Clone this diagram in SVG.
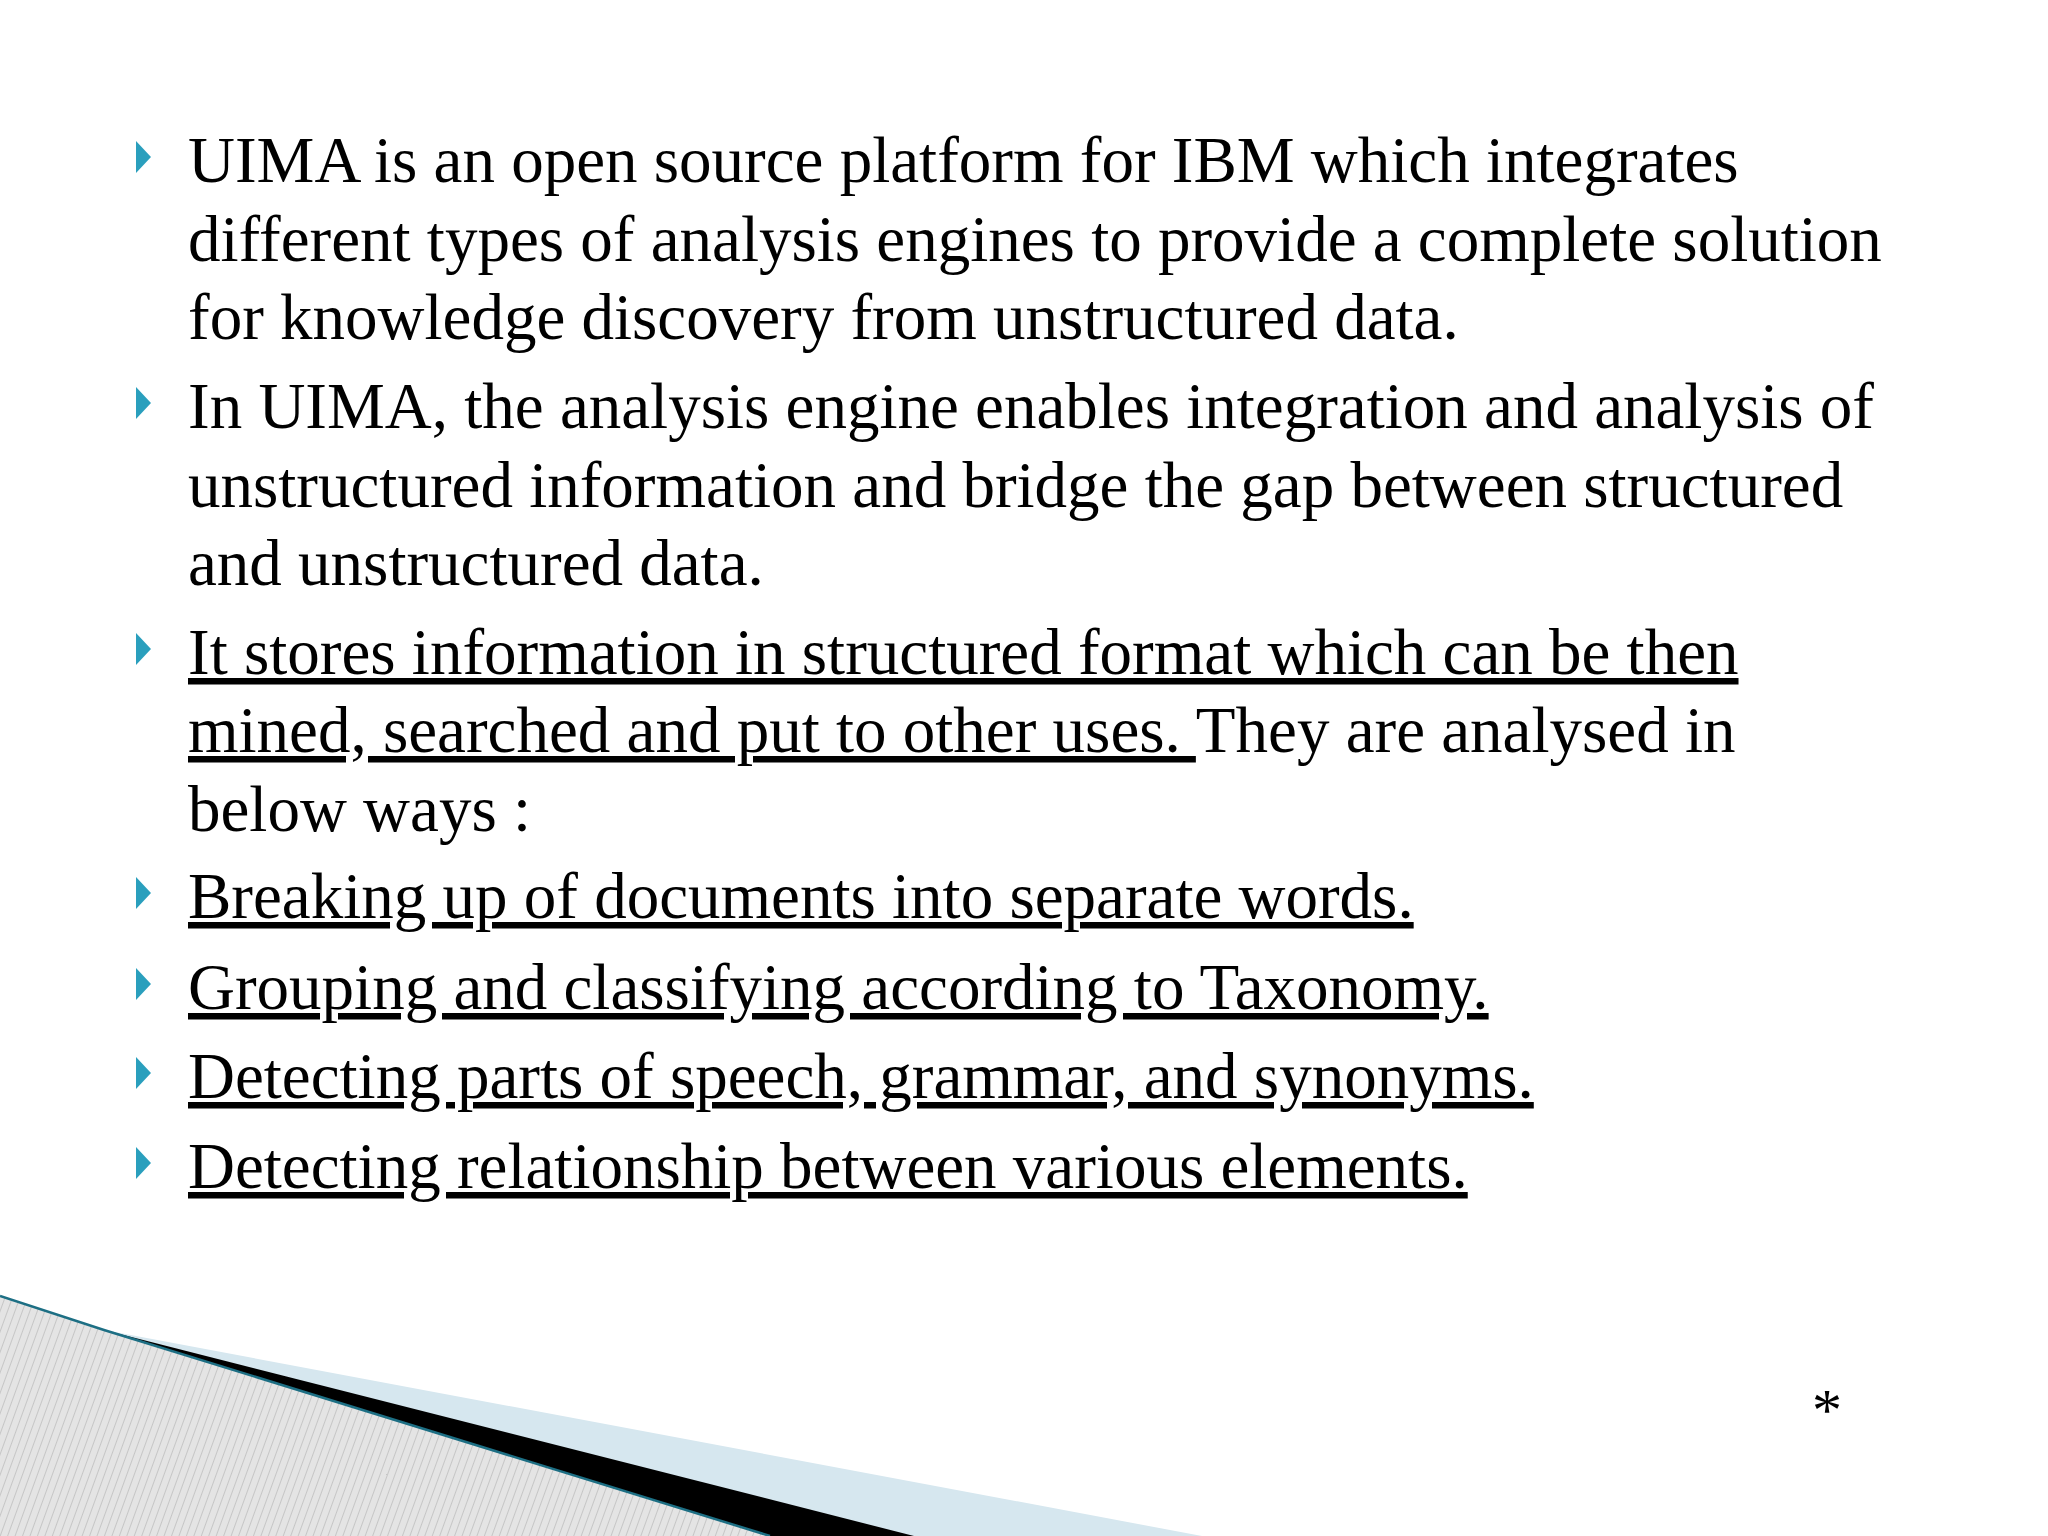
<svg xmlns="http://www.w3.org/2000/svg" width="2048" height="1536" viewBox="0 0 2048 1536">
<style>
.t{font-family:"Liberation Serif","Times New Roman",serif;font-size:65px;fill:#000}
.u{text-decoration:underline}
.b{fill:#2a9fbd}
</style>
<defs>
<pattern id="h" width="7" height="7" patternUnits="userSpaceOnUse" patternTransform="rotate(20)">
<rect width="7" height="7" fill="#e4e4e4"/><line x1="0" y1="0" x2="0" y2="7" stroke="#a8a8a8" stroke-width="1"/>
</pattern>
<path id="tri" d="M0,-41 L15,-25 L0,-9 Z"/>
</defs>
<rect width="2048" height="1536" fill="#fff"/>
<g id="decor">
<polygon points="104,1330 1202,1536 880,1536" fill="#d6e7ef"/>
<polygon points="104,1330 914,1536 770,1536" fill="#000"/>
<polygon points="0,1296 104,1330 770,1536 0,1536" fill="url(#h)"/>
<polyline points="0,1296 104,1330 770,1536" fill="none" stroke="#1d6f84" stroke-width="2.5"/>
</g>
<g id="bullets" class="b">
<use href="#tri" x="136" y="182"/>
<use href="#tri" x="136" y="428"/>
<use href="#tri" x="136" y="674"/>
<use href="#tri" x="136" y="918"/>
<use href="#tri" x="136" y="1009"/>
<use href="#tri" x="136" y="1098"/>
<use href="#tri" x="136" y="1188"/>
</g>
<g id="text" class="t">
<text x="188" y="182">UIMA is an open source platform for IBM which integrates</text>
<text x="188" y="261">different types of analysis engines to provide a complete solution</text>
<text x="188" y="339">for knowledge discovery from unstructured data.</text>
<text x="188" y="428">In UIMA, the analysis engine enables integration and analysis of</text>
<text x="188" y="507">unstructured information and bridge the gap between structured</text>
<text x="188" y="585">and unstructured data.</text>
<text x="188" y="674" class="u">It stores information in structured format which can be then</text>
<text x="188" y="752" xml:space="preserve"><tspan class="u">mined, searched and put to other uses. </tspan>They are analysed in</text>
<text x="188" y="831">below ways :</text>
<text x="188" y="918" class="u">Breaking up of documents into separate words.</text>
<text x="188" y="1009" class="u">Grouping and classifying according to Taxonomy.</text>
<text x="188" y="1098" class="u">Detecting parts of speech, grammar, and synonyms.</text>
<text x="188" y="1188" class="u">Detecting relationship between various elements.</text>
<text x="1812" y="1430" style="font-size:60px">*</text>
</g>
</svg>
